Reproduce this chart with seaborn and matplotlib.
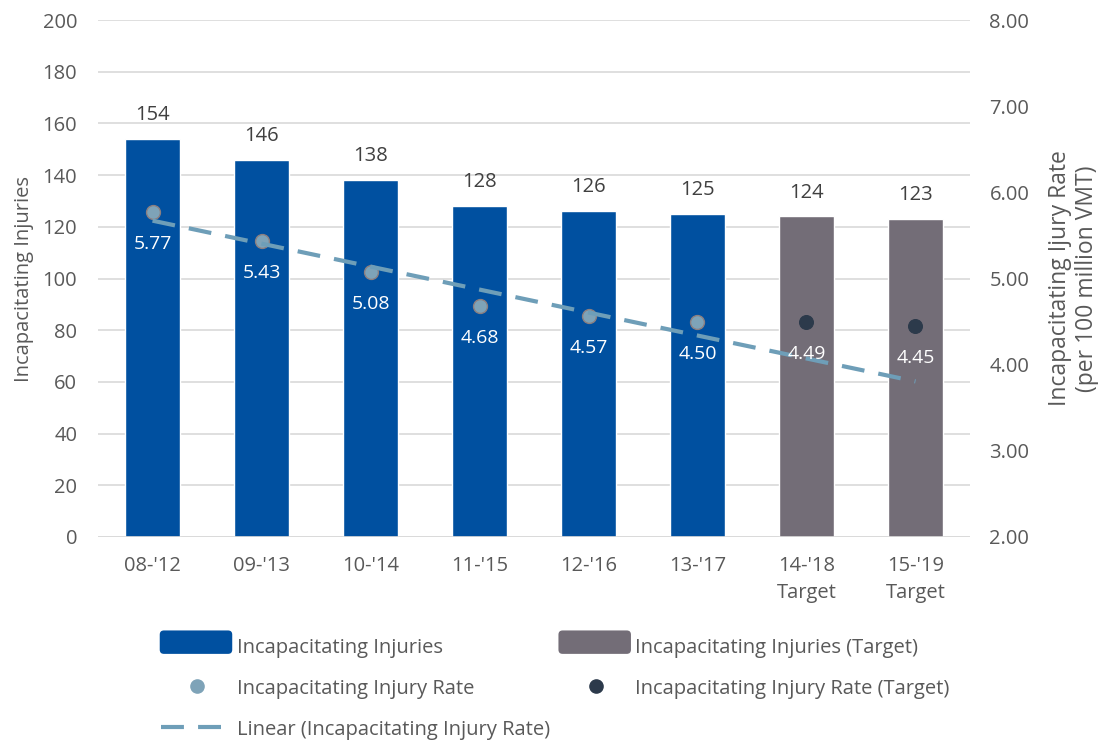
import numpy as np
import pandas as pd
import matplotlib
matplotlib.use("Agg")
import matplotlib.pyplot as plt
import seaborn as sns
from matplotlib.lines import Line2D
from matplotlib.patches import FancyBboxPatch

# Five-year rolling periods
periods = ["08-'12", "09-'13", "10-'14", "11-'15", "12-'16", "13-'17", "14-'18", "15-'19"]
tick_labels = ["08-'12", "09-'13", "10-'14", "11-'15", "12-'16", "13-'17", "14-'18\nTarget", "15-'19\nTarget"]
status = ["Actual", "Actual", "Actual", "Actual", "Actual", "Actual", "Target", "Target"]

# Incapacitating injuries (count) and rate per 100 million VMT
injuries = [154, 146, 138, 128, 126, 125, 124, 123]
rates = [5.77, 5.43, 5.08, 4.68, 4.57, 4.50, 4.49, 4.45]

BLUE = "#0050A0"
GREY = "#736D77"
RATE = "#7EA3B8"
RATE_EDGE = "#8C7F80"
RATE_TGT = "#2C3A4B"
TREND = "#6E9EB8"
TXT = "#595959"
DASH = (0, (5.5, 3.4))

sns.set_theme(style="white")
plt.rcParams["font.family"] = ["Open Sans", "DejaVu Sans"]
plt.rcParams["text.color"] = TXT

df = pd.DataFrame({"period": periods, "injuries": injuries, "rate": rates, "status": status})
pos = np.arange(len(periods))
df["pos"] = pos

fig = plt.figure(figsize=(11.04, 7.42), dpi=100)
ax = fig.add_axes([0.0888, 0.2763, 0.7898, 0.6967])

sns.barplot(data=df, x="period", y="injuries", hue="status", dodge=False,
            palette={"Actual": BLUE, "Target": GREY}, width=0.5, saturation=1,
            ax=ax, legend=False, zorder=2)
ax.set_ylim(0, 200)
ax.set_yticks(np.arange(0, 201, 20))
ax.set_xlim(-0.5, 7.5)
ax.set_xticks(pos)
ax.set_xticklabels(tick_labels, color=TXT, fontsize=14.5, linespacing=1.45)
ax.tick_params(axis="y", colors=TXT, labelsize=14.5, length=0, pad=15)
ax.tick_params(axis="x", length=0, pad=14)
ax.yaxis.grid(True, color="#D9D9D9", linewidth=1.2, zorder=0)
ax.set_axisbelow(True)
ax.axhline(0, color="#D9D9D9", linewidth=1.2, zorder=3)
for s in ax.spines.values():
    s.set_visible(False)
ax.set_xlabel("")
ax.set_ylabel("Incapacitating Injuries", fontsize=14.5, color=TXT)
ax.yaxis.set_label_coords(-0.074, 0.5)

for p, v in zip(pos, injuries):
    ax.annotate(f"{v}", (p, v), xytext=(0, 10), textcoords="offset points",
                ha="center", va="bottom", fontsize=14.5, color="#404040")

# Rate on the secondary axis
ax2 = ax.twinx()
ax2.set_ylim(2, 8)
ax2.set_yticks(np.arange(2, 8.01, 1))
ax2.set_yticklabels([f"{t:.2f}" for t in np.arange(2, 8.01, 1)])
ax2.tick_params(axis="y", colors=TXT, labelsize=14.5, length=0, pad=14)
for s in ax2.spines.values():
    s.set_visible(False)
ax2.set_ylabel("Incapacitating Ijury Rate\n(per 100 million VMT)", fontsize=16.5,
               color=TXT, linespacing=1.2)
ax2.yaxis.set_label_coords(1.089, 0.5)

actual = df[df["status"] == "Actual"]
target = df[df["status"] == "Target"]

sns.scatterplot(data=actual, x="pos", y="rate", color=RATE, edgecolor=RATE_EDGE,
                linewidth=1, s=100, ax=ax2, zorder=4)
sns.scatterplot(data=target, x="pos", y="rate", color=RATE_TGT, edgecolor=RATE_TGT,
                s=100, ax=ax2, zorder=4)

# Linear trend fitted to the actual rates, extended over all periods
coef = np.polyfit(actual["pos"], actual["rate"], 1)
ax2.plot(pos, np.polyval(coef, pos), linestyle=DASH, color=TREND,
         linewidth=3, zorder=5)
ax2.set_xlim(-0.5, 7.5)
ax2.set_xlabel("")

for p, r in zip(pos, rates):
    ax2.annotate(f"{r:.2f}", (p, r), xytext=(0, -23), textcoords="offset points",
                 ha="center", va="center", fontsize=14, color="white", zorder=6)


class RoundPatchHandler:
    """Legend handle drawn as a rounded rectangle filling the handle box."""
    def __init__(self, color):
        self.color = color

    def legend_artist(self, legend, orig_handle, fontsize, handlebox):
        x0, y0 = handlebox.xdescent, handlebox.ydescent
        w, h = handlebox.width, handlebox.height
        p = FancyBboxPatch((x0 - w * 0.02, y0 - h * 0.15), w, h * 1.3,
                           boxstyle="round,pad=0,rounding_size=3",
                           facecolor=self.color, edgecolor="none",
                           transform=handlebox.get_transform())
        handlebox.add_artist(p)
        return p


h_bar = Line2D([], [], color=BLUE)
h_bar_t = Line2D([], [], color=GREY)
handles = [
    h_bar,
    Line2D([], [], marker="o", linestyle="none", markersize=9.5,
           markerfacecolor=RATE, markeredgecolor=RATE),
    Line2D([], [], linestyle=DASH, color=TREND, linewidth=3),
    h_bar_t,
    Line2D([], [], marker="o", linestyle="none", markersize=9.5,
           markerfacecolor=RATE_TGT, markeredgecolor=RATE_TGT),
]
labels = [
    "Incapacitating Injuries",
    "Incapacitating Injury Rate",
    "Linear (Incapacitating Injury Rate)",
    "Incapacitating Injuries (Target)",
    "Incapacitating Injury Rate (Target)",
]
fig.legend(handles, labels, ncol=2, loc="upper left", bbox_to_anchor=(0.146, 0.141),
           frameon=False, fontsize=14.5, handlelength=3.6, handleheight=1.0,
           handletextpad=0.15, columnspacing=0.5, labelspacing=1.0,
           labelcolor=TXT, borderaxespad=0, borderpad=0,
           handler_map={h_bar: RoundPatchHandler(BLUE),
                        h_bar_t: RoundPatchHandler(GREY)})

fig.savefig("out.png", dpi=100)
